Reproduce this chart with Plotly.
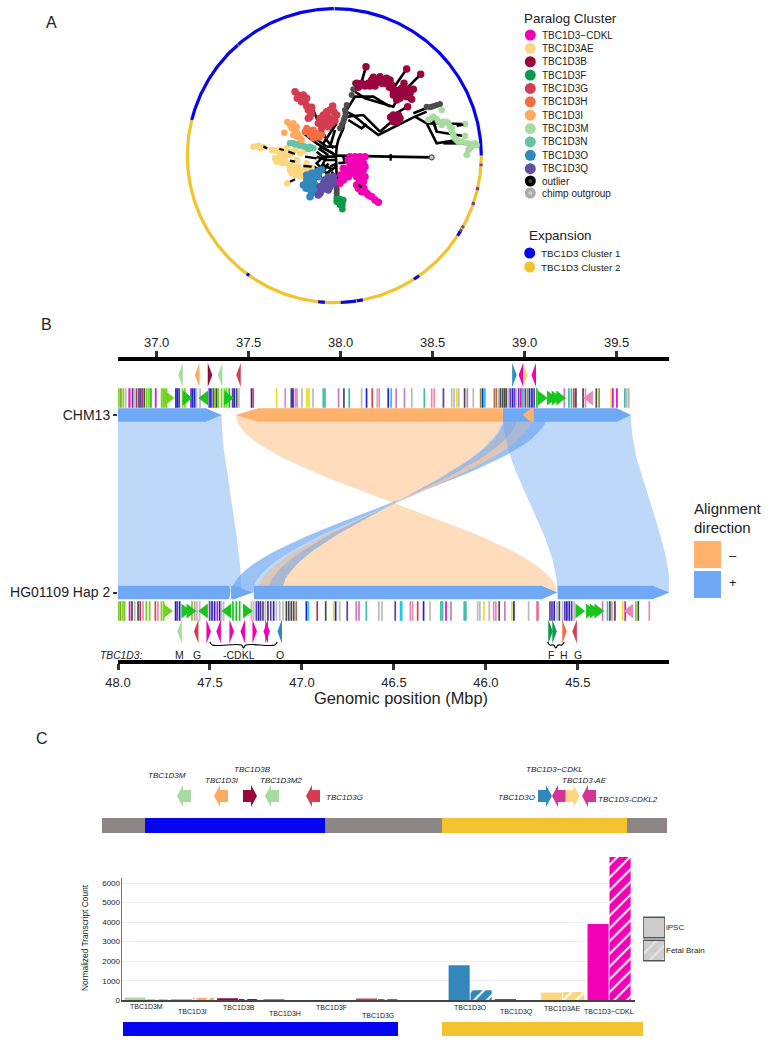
import numpy as np
import plotly.graph_objects as go

W, H = 778, 1049
FONT = "Liberation Sans"
TXT = "#222222"

# ---------------- Panel A data ----------------
paralogs = ["TBC1D3\u2212CDKL", "TBC1D3AE", "TBC1D3B", "TBC1D3F", "TBC1D3G", "TBC1D3H", "TBC1D3I",
            "TBC1D3M", "TBC1D3N", "TBC1D3O", "TBC1D3Q", "outlier", "chimp outgroup"]
expansions = ["TBC1D3 Cluster 1", "TBC1D3 Cluster 2"]

tips_cdkl = [(510,470),(525,470),(540,470),(555,470),(530,485),(550,490),(510,495),(515,510),(530,510),(550,510),
             (490,505),(482,525),(495,530),(480,550),(500,520),(530,530),(545,525),(550,545),(535,565),(545,575),
             (560,580),(575,590),(595,607),(505,480),(520,482),(540,480),(520,495),(535,497),(545,500),(520,520),
             (505,530),(490,540),(500,510),(485,535),(540,555),(530,555),(540,540),(555,530),(555,500),(552,565),
             (565,585),(585,600)]
tips_ae = [(220,440),(235,437),(240,445),(275,450),(300,450),(320,445),(345,450),(372,453),(300,465),(315,470),
           (290,485),(305,490),(320,490),(335,495),(345,510),(360,515),(330,510),(345,525),(360,530),(375,510),
           (395,505),(322,550),(380,490),(330,465),(350,480),(250,442),(290,452),(310,460),(330,455),(360,460),
           (285,475),(300,478),(315,482),(330,500),(340,500),(355,500),(350,520),(335,520),(365,525),(370,520),(385,505)]
tips_b = [(530,250),(535,262),(545,250),(555,258),(565,250),(575,240),(580,232),(590,245),(600,230),(610,240),
          (620,235),(625,250),(628,262),(558,200),(680,207),(722,223),(640,275),(650,290),(660,280),(665,265),
          (672,250),(680,268),(700,268),(690,280),(695,298),(650,300),(683,320),(640,345),(655,345),(650,365),(632,352),
          (540,255),(570,258),(585,258),(595,240),(605,250),(615,250),(630,240),(635,255),(645,270),(655,272),
          (640,285),(660,295),(670,285),(680,290),(690,268),(645,355),(660,355),(640,365)]
tips_f = [(470,597),(480,597),(490,600),(475,607),(487,610),(487,628),(480,607),(470,605),(487,618),(480,615)]
tips_g = [(345,275),(355,285),(352,295),(370,285),(380,295),(365,305),(380,318),(395,322),(390,350),(385,355),
          (420,355),(430,345),(440,335),(458,318),(462,335),(450,355),(435,370),(425,385),(445,380),(465,362),(470,345),
          (360,295),(375,305),(385,330),(395,340),(440,345),(450,330),(430,360),(440,365),(415,370),(455,370),(430,375),(420,365)]
tips_h = [(385,390),(395,400),(405,410),(418,412),(390,405),(375,395),(400,390),(410,400),(380,385),(425,405),(400,415)]
tips_i = [(322,366),(313,398),(340,370),(350,380),(345,395),(355,405),(365,420),(340,405),(335,385),(350,395),(360,415),(350,410),(330,375)]
tips_m = [(785,330),(755,355),(770,358),(745,360),(790,365),(800,365),(810,380),(855,372),(815,395),(825,415),
          (855,408),(835,425),(860,430),(885,430),(870,445),(860,465),(865,450),(890,435),(760,350),(775,365),
          (785,375),(805,370),(815,385),(820,405),(830,420),(845,425),(870,432),(875,440)]
tips_n = [(330,430),(345,433),(360,437),(375,440),(390,440),(400,445),(385,447),(340,430),(355,433),(370,437),(395,443)]
tips_o = [(390,590),(392,570),(405,570),(370,555),(385,550),(395,540),(380,525),(395,520),(410,515),(415,530),(405,555),(425,510),
          (380,540),(400,530),(390,560),(400,545),(415,520),(405,525),(378,565),(395,580)]
tips_q = [(415,585),(425,570),(430,560),(440,565),(450,560),(460,550),(435,540),(445,530),(460,530),(465,545),
          (420,580),(420,560),(450,545),(440,550),(455,540),(430,550),(445,570)]
nodes_outlier = [(500,315),(495,330),(495,350),(490,365),(480,385),(525,250),(515,285),(740,320),(755,320),(770,315),
                 (780,312),(470,560),(470,580),(470,570),(470,590),(497,340),(492,358),(485,375),(520,268),(750,322),(762,318)]
outgroup_tip = [(755,472)]

tree_branches = [
    [(468,467),(470,440),(475,420),(490,385),(495,345),(500,320)],
    [(498,335),(520,345),(555,375),(595,405),(700,352),(740,335)],
    [(500,350),(550,345),(590,385),(600,395)],
    [(505,360),(545,385),(560,372)],
    [(500,330),(525,290),(560,290),(580,290),(630,320)],
    [(525,275),(555,295),(640,320),(650,300)],
    [(545,245),(558,200)], [(640,265),(680,207)], [(660,285),(722,223)], [(640,295),(700,265)],
    [(630,350),(683,320)], [(600,395),(640,360)],
    [(700,340),(750,320)], [(705,350),(740,370),(770,430),(830,420)],
    [(760,365),(770,395),(850,408)], [(740,370),(855,372)], [(790,430),(885,430)],
    [(400,330),(420,380),(440,420)], [(430,430),(470,370)], [(450,440),(465,390)],
    [(468,467),(440,450),(410,430),(370,400)], [(470,470),(430,470),(410,490),(440,520),(468,500)],
    [(410,455),(440,480),(465,480)], [(420,440),(460,460)], [(440,420),(460,445)], [(400,500),(430,515),(445,490)],
    [(468,470),(470,520),(472,590)], [(475,490),(510,485)], [(490,470),(495,490)], [(530,540),(585,600)],
    [(468,467),(755,472)],
    [(410,470),(440,480)], [(430,495),(460,510)], [(440,440),(468,440)], [(415,445),(445,465)], [(425,500),(440,470)],
    [(450,500),(470,490)], [(455,515),(470,540)], [(445,520),(460,545)], [(400,410),(440,440)],
]
tree_overlay = [[(250,440),(262,445)], [(298,447),(312,450)], [(325,455),(345,462)], [(370,498),(395,500)],
                [(330,545),(345,538)], [(375,470),(410,475)], [(330,482),(345,485)], [(632,462),(632,482)],
                [(535,555),(545,562)], [(760,362),(770,395)], [(830,378),(850,374)]]

ring_arcs_main = [(0,166,"c1"), (166,360,"c2")]
ring_marks = [(90,0.2,"g"), (131,0.15,"g"), (-32,1.0,"c1"), (-56,1.2,"c1"), (-95,1.3,"c1"), (-84.5,3,"c1"),
              (-80,1.2,"c1"), (-126,0.6,"c1"), (-3.6,0.5,"v"), (-13,0.6,"v"), (-19,0.6,"v"), (-29,0.5,"v"), (-30.5,0.5,"v")]

# ---------------- Panel B data ----------------
chm13_ticks = [37.0, 37.5, 38.0, 38.5, 39.0, 39.5]
hg_ticks = [48.0, 47.5, 47.0, 46.5, 46.0, 45.5]
alignments = [  # CHM13 start, end, HG start, end, strand
    (36.79, 37.354, 48.0, 47.33, "+"),
    (37.431, 38.882, 45.616, 47.11, "-"),
    (38.882, 39.122, 47.11, 47.382, "+"),
    (38.893, 39.046, 47.11, 47.241, "-"),
    (38.893, 38.964, 47.11, 47.186, "+"),
    (39.046, 39.122, 47.268, 47.382, "+"),
    (38.882, 39.578, 45.612, 45.0, "+"),
]
chm13_blocks = [(36.795,"g"),(36.806,"o"),(36.819,"g"),(36.832,"a"),(36.851,"m"),(36.859,"k"),(36.870,"p"),(36.879,"a"),
    (36.891,"w"),(36.904,"d"),(36.913,"p"),(36.922,"w"),(36.933,"d"),(36.946,"g"),(36.958,"g"),(36.969,"G"),(36.995,"m"),
    (37.027,"g"),(37.036,"g"),(37.045,"g"),(37.054,"g"),(37.105,"b"),(37.114,"b"),(37.123,"p"),(37.141,"g"),(37.154,"g"),
    (37.187,"p"),(37.196,"b"),(37.207,"b"),(37.217,"a"),(37.236,"a"),(37.286,"p"),(37.295,"b"),(37.308,"p"),(37.317,"g"),
    (37.326,"d"),(37.335,"g"),(37.353,"g"),(37.368,"g"),(37.380,"g"),(37.395,"G"),(37.413,"p"),(37.422,"b"),(37.435,"d"),
    (37.447,"a"),(37.516,"b"),(37.525,"r"),(37.652,"y"),(37.699,"k"),(37.732,"d"),(37.741,"b"),(37.754,"k"),(37.763,"k"),
    (37.790,"a"),(37.817,"y"),(37.828,"y"),(37.850,"a"),(37.906,"t"),(37.915,"t"),(37.989,"h"),(38.018,"d"),(38.047,"t"),
    (38.114,"a"),(38.141,"b"),(38.172,"r"),(38.199,"a"),(38.210,"k"),(38.259,"b"),(38.275,"c"),(38.302,"h"),(38.347,"h"),
    (38.387,"a"),(38.455,"t"),(38.495,"k"),(38.509,"k"),(38.559,"p"),(38.604,"a"),(38.617,"a"),(38.631,"y"),(38.642,"a"),
    (38.674,"d"),(38.689,"h"),(38.721,"a"),(38.761,"o"),(38.772,"b"),(38.784,"c"),(38.836,"n"),(38.847,"n"),(38.860,"a"),
    (38.869,"d"),(38.881,"d"),(38.892,"d"),(38.901,"d"),(38.914,"a"),(38.923,"p"),(38.935,"b"),(38.946,"p"),(38.955,"a"),
    (38.968,"p"),(38.980,"m"),(38.991,"t"),(39.004,"p"),(39.016,"o"),(39.027,"b"),(39.040,"b"),(39.052,"p"),(39.067,"G"),
    (39.216,"h"),(39.241,"t"),(39.255,"t"),(39.268,"r"),(39.279,"d"),(39.318,"d"),(39.331,"k"),(39.390,"d"),(39.405,"o"),
    (39.471,"y"),(39.480,"m"),(39.502,"m"),(39.545,"t"),(39.556,"a"),(39.567,"a")]
hg_blocks = [(47.996,"g"),(47.986,"o"),(47.973,"g"),(47.964,"g"),(47.937,"m"),(47.924,"d"),(47.909,"a"),(47.891,"d"),
    (47.879,"w"),(47.864,"k"),(47.846,"g"),(47.828,"g"),(47.797,"r"),(47.783,"k"),(47.764,"g"),(47.752,"g"),(47.687,"b"),
    (47.678,"p"),(47.665,"b"),(47.598,"g"),(47.583,"k"),(47.571,"a"),(47.556,"a"),(47.502,"p"),(47.489,"b"),(47.475,"b"),
    (47.460,"m"),(47.447,"b"),(47.438,"a"),(47.426,"a"),(47.375,"G"),(47.357,"G"),(47.339,"G"),(47.275,"a"),(47.263,"a"),
    (47.248,"p"),(47.236,"b"),(47.225,"d"),(47.212,"p"),(47.199,"a"),(47.185,"d"),(47.170,"p"),(47.154,"b"),(47.139,"a"),
    (47.121,"a"),(47.103,"a"),(47.085,"d"),(47.072,"d"),(47.058,"d"),(47.045,"d"),(47.031,"n"),(46.976,"b"),(46.966,"c"),
    (46.917,"w"),(46.871,"d"),(46.828,"y"),(46.817,"b"),(46.795,"a"),(46.754,"p"),(46.705,"h"),(46.690,"h"),(46.650,"t"),
    (46.582,"a"),(46.565,"a"),(46.493,"p"),(46.464,"c"),(46.458,"c"),(46.411,"k"),(46.399,"k"),(46.371,"r"),(46.339,"b"),
    (46.304,"a"),(46.245,"t"),(46.236,"t"),(46.217,"m"),(46.190,"h"),(46.118,"t"),(46.109,"t"),(46.045,"a"),(46.033,"a"),
    (46.011,"y"),(45.982,"a"),(45.958,"k"),(45.946,"k"),(45.928,"d"),(45.897,"h"),(45.859,"y"),(45.848,"b"),(45.768,"a"),
    (45.721,"r"),(45.716,"k"),(45.652,"p"),(45.641,"p"),(45.629,"b"),(45.614,"a"),(45.601,"d"),(45.583,"a"),(45.571,"p"),
    (45.560,"b"),(45.547,"b"),(45.534,"p"),(45.520,"a"),(45.366,"h"),(45.339,"t"),(45.326,"d"),(45.315,"k"),(45.299,"d"),
    (45.257,"y"),(45.243,"m"),(45.185,"g"),(45.172,"d"),(45.112,"k")]
chm13_block_arrows = [(37.062,1,"g"),(37.160,1,"G"),(37.262,-1,"G"),(37.385,1,"G"),(39.090,1,"G"),(39.140,1,"G"),
                      (39.165,1,"G"),(39.190,1,"G"),(39.354,-1,"k")]
hg_block_arrows = [(47.737,-1,"g"),(47.638,-1,"G"),(47.610,-1,"G"),(47.529,1,"G"),(47.402,1,"G"),(47.303,-1,"G"),
                   (45.496,-1,"G"),(45.438,-1,"G"),(45.417,-1,"G"),(45.393,-1,"G"),(45.217,1,"k")]
chm13_genes = [(37.13,-1,"M"),(37.22,-1,"I"),(37.29,1,"B"),(37.345,-1,"M"),(37.445,-1,"G"),
               (38.945,1,"O"),(38.98,-1,"CDKL"),(39.005,1,"AE"),(39.05,-1,"CDKL")]
hg_genes = [(47.665,1,"M"),(47.575,1,"G"),(47.507,-1,"CDKL"),(47.453,1,"CDKL"),(47.382,-1,"CDKL"),(47.322,1,"CDKL"),
            (47.257,-1,"CDKL"),(47.197,1,"CDKL"),(47.187,-1,"CDKL"),(47.121,1,"O"),(45.649,-1,"F"),(45.627,-1,"F"),
            (45.573,-1,"H"),(45.518,1,"G")]
hg_gene_labels = [(47.665,"M"),(47.572,"G"),(47.34,"-CDKL"),(47.121,"O"),(45.649,"F"),(45.578,"H"),(45.502,"G")]

# ---------------- Panel C data ----------------
track_lengths = [43, 180, 117, 185, 40]
track_kinds = ["flank", "c1", "flank", "c2", "flank"]
strip_starts = [21, 340]
strip_lengths = [275, 201]
strip_kinds = ["c1", "c2"]
track_genes = [("TBC1D3M",82,-1,"M",65,775),("TBC1D3I",119,-1,"I",120,780),("TBC1D3B",148,1,"B",150,769),
               ("TBC1D3M2",170,-1,"M",179,780),("TBC1D3G",211,-1,"G",242,797),
               ("TBC1D3O",443,1,"O",414,797),("TBC1D3\u2212CDKL",457,-1,"CDKLm",452,769),
               ("TBC1D3-AE",470.5,1,"AE",482,780),("TBC1D3-CDKL2",487,-1,"CDKLm",526,799)]
expr_genes = ["TBC1D3M","TBC1D3I","TBC1D3B","TBC1D3H","TBC1D3F","TBC1D3G"," ","TBC1D3O","TBC1D3Q","TBC1D3AE","TBC1D3\u2212CDKL"]
expr_keys = ["M","I","B","H","F","G","M","O","Q","AE","CDKL"]
expr_ipsc = [140, 20, 100, 30, 15, 90, 0, 1795, 20, 393, 3897]
expr_fetal = [40, 130, 70, 10, 10, 30, 0, 513, 5, 420, 7330]
expr_label_drop = [6, 11, 7, 13, 7, 15, 0, 7, 12, 8, 11]
expr_ticks = [0, 1000, 2000, 3000, 4000, 5000, 6000]
expr_axis_top = 6270

# ---------------- styles ----------------
PC = {"CDKL":"#F200B4","AE":"#FDD77F","B":"#99053F","F":"#0C9A4B","G":"#D43D51","H":"#F46D43","I":"#FDA95F",
      "M":"#A8DBA0","N":"#66C2A5","O":"#3288BD","Q":"#5E4FA2","CDKLm":"#D6339A"}
legend_cols = [PC["CDKL"],PC["AE"],PC["B"],PC["F"],PC["G"],PC["H"],PC["I"],PC["M"],PC["N"],PC["O"],PC["Q"],"#000000","#AAAAAA"]
CL = {"c1":"#0505F0","c2":"#F4C22F","g":"#C8C8A0","v":"#6A3FA0","flank":"#8C8686"}
FAM = {"g":"#74D21C","G":"#18C41E","o":"#8A9A2A","m":"#E010C0","k":"#E888B8","p":"#6A35B5","b":"#1E22CC","a":"#BBBBBB",
       "d":"#4A4A4A","r":"#E0404A","w":"#9C3B5C","t":"#3FBBAA","y":"#E5E020","c":"#22C8E8","h":"#C97AC9","n":"#A9714A"}
ARROW = {"+":"#6FA8F5","-":"#FFB26B"}
RIB = {"+":"rgba(111,168,245,0.45)","-":"rgba(255,178,107,0.45)"}
HATCH_SIZE, HATCH_SOLIDITY = 9, 0.22

def xdom(a,b): return [a/W, b/W]
def ydom(a,b): return [1-b/H, 1-a/H]

fig = go.Figure()
def add(tr, xa, ya):
    tr.update(xaxis=xa, yaxis=ya, showlegend=False, hoverinfo="skip")
    fig.add_trace(tr)

# ---- Panel A: ring
CX, CY, R = 463, 467, 441
def arc(a0, a1):
    t = np.radians(np.linspace(a0, a1, int(abs(a1-a0))*2+3))
    return CX+R*np.cos(t), CY-R*np.sin(t)
for a0,a1,k in ring_arcs_main:
    x,y = arc(a0,a1)
    add(go.Scatter(x=x,y=y,mode="lines",line=dict(color=CL[k],width=3.2)),"x","y")
for a,hw,k in ring_marks:
    x,y = arc(a-hw,a+hw)
    add(go.Scatter(x=x,y=y,mode="lines",line=dict(color=CL[k],width=3.2)),"x","y")
# tree
for b in tree_branches:
    add(go.Scatter(x=[p[0] for p in b],y=[p[1] for p in b],mode="lines",line=dict(color="black",width=2.6)),"x","y")
for pts,c,s in [(nodes_outlier,"#4D4D4D",6),(tips_ae,PC["AE"],6.5),(tips_n,PC["N"],6.5),(tips_i,PC["I"],6.5),(tips_h,PC["H"],7),
                (tips_g,PC["G"],7.5),(tips_b,PC["B"],7.5),(tips_m,PC["M"],6.5),(tips_o,PC["O"],7.5),(tips_q,PC["Q"],7.5),
                (tips_f,PC["F"],6.5),(tips_cdkl,PC["CDKL"],7.5)]:
    add(go.Scatter(x=[p[0] for p in pts],y=[p[1] for p in pts],mode="markers",marker=dict(color=c,size=s)),"x","y")
for b in tree_overlay:
    add(go.Scatter(x=[p[0] for p in b],y=[p[1] for p in b],mode="lines",line=dict(color="black",width=2.3)),"x","y")
add(go.Scatter(x=[outgroup_tip[0][0]],y=[outgroup_tip[0][1]],mode="markers",
               marker=dict(color="#CCCCCC",size=5,line=dict(color="#555555",width=1.2))),"x","y")

# ---- Panel B
HG0 = 84.79
Y_TOP, Y_BOT = 56, 233.5
def ribbon(a,b,c,d,col):
    ys = np.linspace(Y_TOP, Y_BOT, 41)
    t = (ys-Y_TOP)/(Y_BOT-Y_TOP)
    s = t*t*(3-2*t)
    c2, d2 = HG0-c, HG0-d
    left = a+(c2-a)*s
    right = b+(d2-b)*s
    add(go.Scatter(x=np.r_[left,right[::-1]],y=np.r_[ys,ys[::-1]],mode="lines",fill="toself",
                   fillcolor=col,line=dict(width=0)),"x2","y2")
for a,b,c,d,st in alignments:
    ribbon(a,b,c,d,RIB[st])

def arrow_poly(x0,x1,yc,hl,hh=6.8):
    """x0 tail, x1 tip (data units), hl head length"""
    sgn = 1 if x1>x0 else -1
    n = x1-sgn*hl
    return [x0,n,x1,n,x0,x0],[yc-hh,yc-hh,yc,yc+hh,yc+hh,yc-hh]
for (x0,x1,hl,st) in [(36.79,37.354,0.087,"+"),(38.882,39.578,0.076,"+"),(38.882,37.431,0.12,"-")]:
    xs,ys = arrow_poly(x0,x1,Y_TOP,hl)
    add(go.Scatter(x=xs,y=ys,mode="lines",fill="toself",fillcolor=ARROW[st],line=dict(width=0)),"x2","y2")
xs,ys = arrow_poly(39.05,38.99,Y_TOP,0.045)
add(go.Scatter(x=xs,y=ys,mode="lines",fill="toself",fillcolor=ARROW["-"],line=dict(width=0)),"x2","y2")
for (x0,x1,hl) in [(48.0,47.39,0.005),(47.385,47.268,0.10),(47.262,45.612,0.085),(45.61,45.0,0.095)]:
    xs,ys = arrow_poly(-x0,-x1,Y_BOT,hl)
    add(go.Scatter(x=[-v for v in xs],y=ys,mode="lines",fill="toself",fillcolor=ARROW["+"],line=dict(width=0)),"x3","y2")

for blocks,xa,yc in [(chm13_blocks,"x2",39),(hg_blocks,"x3",252)]:
    add(go.Scatter(x=[b[0] for b in blocks],y=[yc]*len(blocks),mode="markers",
                   marker=dict(symbol="line-ns",size=14,line=dict(width=1.7,color=[FAM[b[1]] for b in blocks]))),xa,"y2")
for arrs,xa,yc,rev in [(chm13_block_arrows,"x2",39,1),(hg_block_arrows,"x3",252,-1)]:
    for p,d,f in arrs:
        sym = "triangle-right" if d*rev>0 else "triangle-left"
        add(go.Scatter(x=[p],y=[yc],mode="markers",marker=dict(symbol=sym,size=13,color=FAM[f])),xa,"y2")

def kite(p,d,yc,width,hh=12):
    # d is +1 pointing to increasing data value
    tip = p+d*width/2; base = p-d*width/2
    return [base,tip,base,base],[yc-hh,yc,yc+hh,yc-hh]
for genes,xa,yc in [(chm13_genes,"x2",16),(hg_genes,"x3",272.5)]:
    for p,d,k in genes:
        xs,ys = kite(p,d,yc,0.0245)
        add(go.Scatter(x=xs,y=ys,mode="lines",fill="toself",fillcolor=PC[k],line=dict(width=0)),xa,"y2")
# brace lines under CDKL and F
for a,b in [(47.50,47.135),(45.665,45.575)]:
    m=(a+b)/2; k=0.012
    add(go.Scatter(x=[a,a-k,m+k,m,m-k,b+k,b],y=[283,286,286,289,286,286,283],mode="lines",
                   line=dict(color="black",width=1.2,shape="spline")),"x3","y2")

# ---- Panel C: bars
cols = [PC[k] for k in expr_keys]
add(go.Bar(x=expr_genes,y=expr_ipsc,marker=dict(color=cols,line=dict(width=0)),cliponaxis=False,name="iPSC",
           offsetgroup="ipsc"),"x4","y4")
for g,v,c in zip(expr_genes,expr_fetal,cols):
    if g.strip():
        add(go.Bar(x=[g],y=[v],cliponaxis=False,name="Fetal Brain",offsetgroup="fetal",
                   marker=dict(color=c,line=dict(width=0),
                               pattern=dict(shape="/",fgcolor="white",bgcolor=c,size=HATCH_SIZE,solidity=HATCH_SOLIDITY,fillmode="replace"))),"x4","y4")
# y axis line stops short of the tallest bar
add(go.Scatter(x=[-0.54,-0.54],y=[0,expr_axis_top],mode="lines",line=dict(color="#444444",width=1.5),cliponaxis=False),"x10","y4")
# track + strips
add(go.Bar(y=[0]*5,x=track_lengths,base=[int(v) for v in np.cumsum([0]+track_lengths[:-1])],orientation="h",width=1,
           marker=dict(color=[CL[k] for k in track_kinds],line=dict(width=0))),"x5","y5")
add(go.Bar(y=[0,0],x=strip_lengths,base=strip_starts,orientation="h",width=1,
           marker=dict(color=[CL[k] for k in strip_kinds],line=dict(width=0))),"x5","y7")
for name,p,d,k,lx,ly in track_genes:
    t=7
    xs=[p-d*t,p+d*1,p+d*1,p+d*t,p+d*1,p+d*1,p-d*t,p-d*t]
    ys=[-.55,-.55,-1,0,1,.55,.55,-.55]
    add(go.Scatter(x=xs,y=ys,mode="lines",fill="toself",fillcolor=PC[k],line=dict(width=0)),"x5","y6")
# fill/hatch legend
add(go.Bar(y=["iPSC"],x=[1],orientation="h",width=0.9,cliponaxis=False,
           marker=dict(color="#CCCCCC",line=dict(color="#555555",width=1.5))),"x8","y8")
add(go.Bar(y=["Fetal Brain"],x=[1],orientation="h",width=0.9,cliponaxis=False,
           marker=dict(color="#CCCCCC",line=dict(color="#555555",width=1.5),
                       pattern=dict(shape="/",fgcolor="white",bgcolor="#CCCCCC",size=HATCH_SIZE,solidity=HATCH_SOLIDITY))),"x8","y8")

# ---- overlay keys (full-figure axes)
leg_ys = [35+13.37*i for i in range(11)]+[181,193]
add(go.Scatter(x=[530.3]*13,y=leg_ys,mode="markers",marker=dict(color=legend_cols,size=11)),"x9","y9")
add(go.Scatter(x=[530.3,530.3],y=[181,193],mode="markers",marker=dict(color=["#444444","#CCCCCC"],size=4)),"x9","y9")
add(go.Scatter(x=[529.7,529.7],y=[253,267],mode="markers",marker=dict(color=[CL["c1"],CL["c2"]],size=11)),"x9","y9")
add(go.Scatter(x=[707.5,707.5],y=[554.5,584.5],mode="markers",
               marker=dict(symbol="square",size=27,color=[ARROW["-"],ARROW["+"]])),"x9","y9")

# ---- annotations
ann = []
def T(x,y,s,size=10,xa="x9",ya="y9",anchor="left",italic=False,**kw):
    f = dict(family=FONT,size=size,color=TXT)
    if italic: f["style"]="italic"
    ann.append(dict(x=x,y=y,xref=xa,yref=ya,text=s,showarrow=False,xanchor=anchor,yanchor="middle",font=f,**kw))
T(44,22,"A",16); T(39,324,"B",16); T(34,738,"C",16)
T(522,18,"Paralog Cluster",13.4)
for n,yy in zip(paralogs,leg_ys): T(539.7,yy,n,10)
T(527,235,"Expansion",13.4)
for n,yy in zip(expansions,[253,267]): T(538.7,yy,n,9.8)
T(692,508,"Alignment",15); T(692,527,"direction",15)
T(727,555,"\u2013",13); T(727,582,"+",13)
T(98,655,"TBC1D3:",10.3,italic=True)
T(401,698,"Genomic position (Mbp)",16.4,anchor="center")
T(85,938,"Normalized Transcript Count",8.4,anchor="center",textangle=-90)
for p,s in hg_gene_labels: T(p,296,s,10.5,xa="x3",ya="y2",anchor="center")
for name,p,d,k,lx,ly in track_genes: T(lx,ly,name,8,xa="x5",anchor="center",italic=True)
for g,drop in zip(expr_genes,expr_label_drop):
    if g.strip(): T(g,0,g,7,xa="x4",ya="y4",anchor="center",yshift=-drop)

hidden = dict(visible=False,showgrid=False,zeroline=False,automargin=False)
lay = dict(
    width=W,height=H,margin=dict(l=0,r=0,t=0,b=0,pad=0),autosize=False,plot_bgcolor="rgba(0,0,0,0)",paper_bgcolor="white",
    barmode="group",bargap=0.05,bargroupgap=0.04,showlegend=False,font=dict(family=FONT,color=TXT),
    annotations=ann,
    xaxis=dict(domain=xdom(180,500),range=[0,960],anchor="y",**hidden),
    yaxis=dict(domain=ydom(0,310),range=[930,0],anchor="x",**hidden),
    xaxis2=dict(domain=xdom(118,669),range=[36.79,39.785],anchor="y2",side="top",showgrid=False,zeroline=False,automargin=False,
                showline=True,linewidth=3.5,linecolor="black",ticks="outside",ticklen=6,tickwidth=3,tickcolor="#333333",
                ticklabelstandoff=-1,
                tickvals=chm13_ticks,ticktext=[f"{v:.1f}" for v in chm13_ticks],tickfont=dict(size=13,color=TXT)),
    xaxis3=dict(domain=xdom(118,669),range=[48.0,45.005],anchor="y2",side="bottom",overlaying="x2",showgrid=False,zeroline=False,automargin=False,
                showline=True,linewidth=3.5,linecolor="black",ticks="outside",ticklen=6,tickwidth=3,tickcolor="#333333",
                ticklabelstandoff=2,
                tickvals=hg_ticks,ticktext=[f"{v:.1f}" for v in hg_ticks],tickfont=dict(size=13,color=TXT)),
    yaxis2=dict(domain=ydom(360.75,659.95),range=[300.95,1.75],anchor="x2",showgrid=False,zeroline=False,showline=False,automargin=False,
                tickvals=[Y_TOP,Y_BOT],ticktext=["CHM13","HG01109 Hap 2"],ticks="outside",ticklen=4,tickwidth=1.5,
                tickcolor="#333333",tickfont=dict(size=14,color=TXT)),
    xaxis4=dict(domain=xdom(121,635),range=[-0.54,10.56],type="category",categoryorder="array",categoryarray=expr_genes,
                anchor="y4",showgrid=False,zeroline=False,showline=True,linecolor="#444444",linewidth=1.5,automargin=False,
                showticklabels=False,ticks=""),
    xaxis10=dict(domain=xdom(121,635),range=[-0.54,10.56],anchor="y4",overlaying="x4",**hidden),
    yaxis4=dict(domain=ydom(857,1000.3),range=[0,7330],anchor="x4",showgrid=True,gridcolor="#EDEDED",gridwidth=1,zeroline=False,automargin=False,
                showline=False,ticks="",tickvals=expr_ticks,tickfont=dict(size=8,color=TXT)),
    xaxis5=dict(domain=xdom(102,667),range=[0,565],anchor="y5",**hidden),
    yaxis5=dict(domain=ydom(818,833),range=[-.5,.5],anchor="x5",**hidden),
    yaxis6=dict(domain=ydom(785,807),range=[-1,1],anchor="x5",**hidden),
    yaxis7=dict(domain=ydom(1022,1036),range=[-.5,.5],anchor="x5",**hidden),
    xaxis8=dict(domain=xdom(643,665),range=[0,1],anchor="y8",**hidden),
    yaxis8=dict(domain=ydom(916,962),type="category",categoryorder="array",categoryarray=["Fetal Brain","iPSC"],automargin=False,
                range=[-.5,1.5],anchor="x8",side="right",showgrid=False,zeroline=False,showline=False,ticks="",
                tickfont=dict(size=8,color=TXT)),
    xaxis9=dict(domain=[0,1],range=[0,W],anchor="y9",**hidden),
    yaxis9=dict(domain=[0,1],range=[H,0],anchor="x9",**hidden),
)
fig.update_layout(**lay)
fig.write_html("out.html",config={"displayModeBar":False},post_script="document.body.style.margin='0';document.body.style.overflow='hidden';")
